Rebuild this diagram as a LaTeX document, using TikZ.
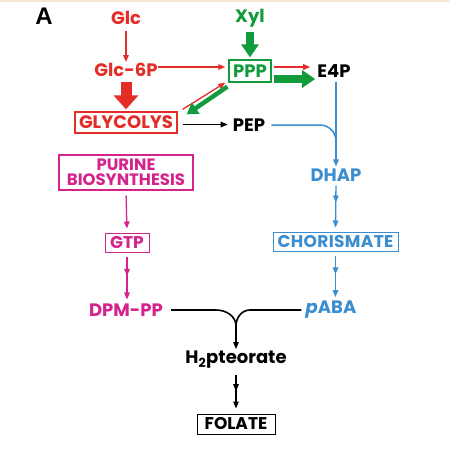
\documentclass[tikz,border=0pt]{standalone}
\usepackage{fontspec}
\setmainfont{Poppins}
\newfontfamily\arialfont{Liberation Sans}
\usetikzlibrary{arrows.meta,decorations.markings}
\definecolor{cred}{RGB}{228,45,38}
\definecolor{cgreen}{RGB}{18,155,60}
\definecolor{cmag}{RGB}{212,35,140}
\definecolor{cblue}{RGB}{58,141,206}
\definecolor{peach}{RGB}{248,230,213}
\begin{document}
\begin{tikzpicture}[x=1pt,y=-1pt,
  lab/.style={font=\fontsize{18}{20}\selectfont\bfseries, inner sep=0pt},
  boxed/.style={lab, draw, line width=1.3pt, inner sep=0pt},
  tip/.style={-{Triangle[length=7pt,width=5.5pt]}},
  thin/.style={line width=1.3pt, tip},
  midtip/.style={postaction={decorate}, decoration={markings,
     mark=at position #1 with {\arrow{Triangle[length=7pt,width=5.5pt]}}}},
  brace/.style={line width=1.6pt, black},
]
\useasboundingbox (0,0) rectangle (449,451);
\fill[white] (0,0) rectangle (449,451);
\draw[peach, line width=2pt] (0,1) -- (449,1);

\node[inner sep=0pt, font=\arialfont\fontsize{24}{26}\selectfont\bfseries] (A) at (44,16) {A};

\node[lab, text=cred] (glc) at (126,18) {Glc};
\node[lab, text=cred] (g6p) at (126,70) {Glc-6P};
\node[boxed, draw=cred, text=cred, minimum width=102pt, minimum height=21pt] (gly) at (126,122.5) {GLYCOLYS};
\node[lab, text=cgreen] (xyl) at (250,18) {Xyl};
\node[boxed, draw=cgreen, text=cgreen, minimum width=42pt, minimum height=22pt] (ppp) at (250,71) {PPP};
\node[lab] (e4p) at (334,71) {E4P};
\node[lab] (pep) at (249,125) {PEP};
\node[boxed, draw=cmag, text=cmag, minimum width=134pt, minimum height=35pt, align=center,
  font=\fontsize{16.5}{15.5}\selectfont\bfseries] (pur) at (126,172.5) {PURINE\\BIOSYNTHESIS};
\node[boxed, draw=cmag, text=cmag, line width=1pt, minimum width=44pt, minimum height=19pt,
  font=\fontsize{17}{18}\selectfont\bfseries] (gtp) at (127,242.5) {GTP};
\node[lab, text=cmag] (dpm) at (126,310) {DPM-PP};
\node[lab, text=cblue] (dhap) at (336,175) {DHAP};
\node[boxed, draw=cblue, text=cblue, line width=1pt, minimum width=125pt, minimum height=19pt,
  font=\fontsize{17}{18}\selectfont\bfseries\addfontfeatures{LetterSpace=2}] (cho) at (335.5,241.5) {CHORISMATE};
\node[lab, text=cblue] (paba) at (331,310) {\textit{p}ABA};
\node[lab] (h2p) at (236,360) {H\textsubscript{2}pteorate};
\node[boxed, draw=black, line width=1pt, minimum width=78pt, minimum height=20pt,
  font=\fontsize{17}{18}\selectfont\bfseries] (fol) at (236,424) {FOLATE};

% red
\draw[cred, thin, shorten <=6pt, shorten >=1pt] (glc.south) -- (g6p.north);
\draw[cred, line width=11pt, -{Triangle[width=24pt,length=14pt]}, shorten <=5pt, shorten >=2pt] (g6p.south) -- (gly.north);
\draw[cred, thin, shorten >=3pt] ([yshift=3pt]g6p.east) -- ([yshift=3pt]g6p.east -| ppp.west);
\draw[cred, thin] ([xshift=5pt,yshift=2pt]gly.north east) -- ([xshift=-3pt]ppp.south west);
\draw[cred, thin, shorten <=2pt, shorten >=7pt] ([yshift=4pt]ppp.east) -- ([yshift=4pt]ppp.east -| e4p.west);
% green
\draw[cgreen, line width=8pt, -{Triangle[width=17pt,length=13pt]}, shorten <=5pt, shorten >=2pt] (xyl.south) -- (ppp.north);
\draw[cgreen, line width=4.5pt, -{Triangle[width=13pt,length=11pt]}] ([xshift=-1pt,yshift=-4pt]ppp.south west) -- ([xshift=9pt,yshift=-3pt]gly.north east);
\draw[cgreen, line width=8pt, -{Triangle[width=17pt,length=13pt]}, shorten <=2pt, shorten >=2pt] ([yshift=-8pt]ppp.east) -- ([yshift=-8pt]ppp.east -| e4p.west);
% black
\draw[black, thin, shorten <=5pt, shorten >=5pt] ([yshift=-2pt]gly.east) -- ([yshift=-2pt]gly.east -| pep.west);
% blue
\draw[cblue, line width=1.5pt] ([xshift=6pt]pep.east) -- ([xshift=-16pt]pep.east -| dhap.north) to[out=0,in=90] ([yshift=-16pt]pep.east -| dhap.north);
\draw[cblue, thin, shorten <=4pt, shorten >=2pt] (e4p.south -| dhap.north) -- (dhap.north);
\draw[cblue, thin, midtip=0.42, shorten <=4pt, shorten >=4pt] (dhap.south) -- (cho.north);
\draw[cblue, thin, midtip=0.46, shorten <=4pt, shorten >=4pt] (cho.south) -- (paba.north -| cho.south);
% magenta
\draw[cmag, thin, shorten <=5pt, shorten >=4pt] (pur.south) -- (gtp.north);
\draw[cmag, thin, midtip=0.46, shorten <=4pt, shorten >=4pt] (gtp.south) -- (dpm.north -| gtp.south);
% brace
\coordinate (m) at (236,326);
\draw[brace] ([xshift=8pt]dpm.east) -- ([xshift=-20pt]dpm.east -| m) to[out=0,in=90] (m);
\draw[brace] ([xshift=-4pt]paba.west) -- ([xshift=14pt]paba.west -| m) to[out=180,in=90] (m);
\draw[black, thin, shorten >=2pt] (m) -- (h2p.north);
\draw[black, thin, midtip=0.5, shorten <=6pt, shorten >=5pt] (h2p.south) -- (fol.north);
\end{tikzpicture}
\end{document}
